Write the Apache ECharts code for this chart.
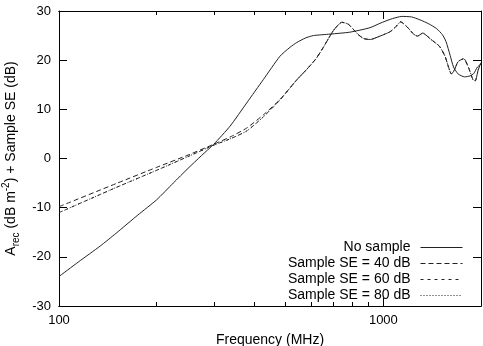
<!DOCTYPE html>
<html>
<head>
<meta charset="utf-8">
<script src="https://cdn.jsdelivr.net/npm/echarts@6/dist/echarts.min.js"></script>
<style>
  html, body { margin: 0; padding: 0; background: #fff; }
  #chart { width: 483px; height: 346px; }
</style>
</head>
<body>
<div id="chart"></div>
<script>
// frequency (MHz) and response (dB)
var freqNoSample = [100, 115, 134, 150, 175, 200, 225, 250, 275, 300, 337, 379, 427, 480, 515, 541, 575, 608, 685, 789, 909, 977, 1050, 1140, 1220, 1297, 1380, 1460, 1520, 1560, 1606, 1646, 1700, 1780, 1850, 1900, 1950, 2000];
var noSample = [-24.0, -21.0, -17.8, -15.2, -11.5, -8.4, -5.0, -2.0, 0.6, 2.9, 6.6, 11.3, 16.1, 20.8, 22.6, 23.6, 24.5, 25.0, 25.3, 25.7, 26.6, 27.5, 28.3, 28.9, 28.8, 28.2, 27.4, 26.4, 25.2, 23.8, 21.0, 18.6, 17.2, 16.6, 16.8, 17.3, 18.6, 19.2];

var freqSample = [100, 150, 200, 250, 300, 340, 379, 427, 480, 541, 580, 620, 653, 701, 745, 780, 837, 870, 910, 977, 1050, 1100, 1130, 1186, 1244, 1275, 1322, 1403, 1490, 1549, 1590, 1620, 1650, 1700, 1770, 1830, 1890, 1920, 1960, 2000];
var se40 = [-9.8, -5.1, -1.8, 0.7, 2.9, 4.5, 6.2, 8.9, 12.0, 16.0, 18.1, 20.3, 22.6, 26.0, 27.7, 27.3, 25.2, 24.4, 24.2, 24.9, 25.8, 27.0, 27.8, 26.7, 25.2, 24.9, 25.5, 24.2, 22.8, 20.8, 18.5, 17.2, 17.8, 19.7, 20.3, 18.5, 16.0, 15.8, 18.0, 19.5];
var se60 = [-11.0, -5.9, -2.4, 0.4, 2.7, 4.1, 5.6, 8.5, 11.9, 16.0, 18.1, 20.3, 22.6, 26.0, 27.7, 27.3, 25.2, 24.4, 24.2, 24.9, 25.8, 27.0, 27.8, 26.7, 25.2, 24.9, 25.5, 24.2, 22.8, 20.8, 18.5, 17.2, 17.8, 19.7, 20.3, 18.5, 16.0, 15.8, 18.0, 19.5];
var se80 = [-11.0, -5.9, -2.4, 0.4, 2.7, 4.1, 5.6, 8.5, 11.9, 16.0, 18.1, 20.3, 22.6, 26.0, 27.7, 27.3, 25.2, 24.4, 24.2, 24.9, 25.8, 27.0, 27.8, 26.7, 25.2, 24.9, 25.5, 24.2, 22.8, 20.8, 18.5, 17.2, 17.8, 19.7, 20.3, 18.5, 16.0, 15.8, 18.0, 19.5];

var seriesNames = ['No sample', 'Sample SE = 40 dB', 'Sample SE = 60 dB', 'Sample SE = 80 dB'];
var majorX = [100, 1000];
var minorX = [200, 300, 400, 500, 600, 700, 800, 900];

function pairs(xs, ys) {
    return xs.map(function (x, i) { return [x, ys[i]]; });
}

var font = 'Liberation Sans, Arial, Helvetica, sans-serif';
var black = '#000';

function xAx(pos, ticks, len, labels) {
    return {
        type: 'log',
        position: pos,
        min: 100,
        max: 2000,
        axisLine: { show: true, onZero: false, lineStyle: { color: black, width: 1 } },
        axisTick: { show: true, inside: true, length: len, customValues: ticks, lineStyle: { color: black } },
        axisLabel: labels ? {
            show: true, customValues: majorX, fontSize: 13, color: black, fontFamily: font, margin: 8,
            formatter: function (v) { return String(Math.round(v)); }
        } : { show: false },
        splitLine: { show: false },
        minorTick: { show: false },
        name: labels ? 'Frequency (MHz)' : '',
        nameLocation: 'middle',
        nameGap: 27,
        nameTextStyle: { fontSize: 14, color: black, fontFamily: font }
    };
}

function yAx(pos, labels) {
    return {
        type: 'value',
        position: pos,
        min: -30,
        max: 30,
        interval: 10,
        axisLine: { show: true, onZero: false, lineStyle: { color: black, width: 1 } },
        axisTick: { show: true, inside: true, length: 8, lineStyle: { color: black } },
        axisLabel: { show: labels, fontSize: 13, color: black, fontFamily: font, margin: 8 },
        splitLine: { show: false },
        name: labels ? '{a|A}{sub|rec}{a| (dB m}{sup|-2}{a|) + Sample SE (dB)}' : '',
        nameLocation: 'middle',
        nameRotate: 90,
        nameGap: 38,
        nameTextStyle: {
            fontSize: 14, color: black, fontFamily: font,
            rich: {
                a: { fontSize: 14, color: black, fontFamily: font, lineHeight: 20 },
                sub: { fontSize: 10, color: black, fontFamily: font, verticalAlign: 'bottom', lineHeight: 20 },
                sup: { fontSize: 10, color: black, fontFamily: font, verticalAlign: 'top', lineHeight: 20 }
            }
        }
    };
}

var chart = echarts.init(document.getElementById('chart'), null, { renderer: 'canvas' });
chart.setOption({
    animation: false,
    backgroundColor: '#fff',
    grid: { left: 59, right: 2, top: 11, bottom: 40, outerBoundsMode: 'none', containLabel: false },
    xAxis: [
        xAx('bottom', majorX, 8, true),
        xAx('bottom', minorX, 4, false),
        xAx('top', majorX, 8, false),
        xAx('top', minorX, 4, false)
    ],
    yAxis: [yAx('left', true), yAx('right', false)],
    legend: {
        orient: 'vertical',
        align: 'right',
        right: 20,
        top: 240,
        padding: 0,
        itemWidth: 42,
        itemHeight: 14,
        itemGap: 1,
        itemStyle: { opacity: 0, borderWidth: 0 },
        lineStyle: { width: 1, color: '#222' },
        textStyle: { fontSize: 14, color: black, fontFamily: font, lineHeight: 15, padding: [0, 5, 0, 0] },
        data: seriesNames
    },
    series: [
        { name: seriesNames[0], type: 'line', symbol: 'none', smooth: 0.2, data: pairs(freqNoSample, noSample),
          lineStyle: { color: '#222', width: 1, type: 'solid' }, itemStyle: { color: '#222' } },
        { name: seriesNames[1], type: 'line', symbol: 'none', smooth: 0.2, data: pairs(freqSample, se40),
          lineStyle: { color: '#222', width: 1, type: [5, 3] }, itemStyle: { color: '#222' } },
        { name: seriesNames[2], type: 'line', symbol: 'none', smooth: 0.2, data: pairs(freqSample, se60),
          lineStyle: { color: '#222', width: 1, type: [3, 4] }, itemStyle: { color: '#222' } },
        { name: seriesNames[3], type: 'line', symbol: 'none', smooth: 0.2, data: pairs(freqSample, se80),
          lineStyle: { color: '#222', width: 1, type: [1, 2] }, itemStyle: { color: '#222' } }
    ]
});
</script>
</body>
</html>
